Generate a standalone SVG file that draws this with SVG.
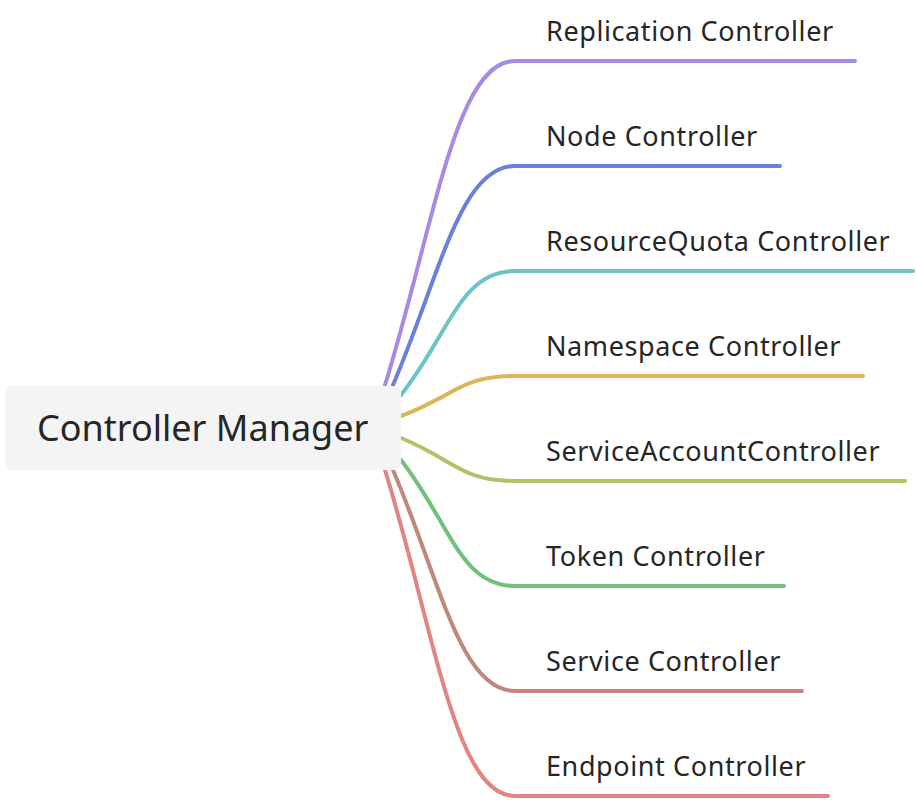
<svg xmlns="http://www.w3.org/2000/svg" width="916" height="800" viewBox="0 0 916 800">
<style>
.b{fill:none;stroke-width:4;stroke-linecap:round}
.t{font-family:"Segoe UI","Noto Sans","Open Sans",sans-serif;font-size:27px;letter-spacing:0.6px;fill:#262626}
</style>
<rect width="916" height="800" fill="#fff"/>
<g id="connectors">
<path class="b" stroke="#a78be0" d="M385 385 C435 223 455 61 515 61 H855"/>
<path class="b" stroke="#6b80d8" d="M393 385 C440 275 460 166 515 166 H780"/>
<path class="b" stroke="#6cc4c4" d="M401 395 C450 333 460 271 515 271 H913"/>
<path class="b" stroke="#ddb558" d="M401 416 C455 396 460 376 515 376 H863"/>
<path class="b" stroke="#aec46a" d="M401 438 C455 460 460 481 515 481 H905"/>
<path class="b" stroke="#73c07c" d="M401 460 C450 523 460 586 515 586 H784"/>
<path class="b" stroke="#c0887a" d="M393 470 C440 580 460 691 515 691 H802"/>
<path class="b" stroke="#e08484" d="M385 470 C435 633 455 796 515 796 H828"/>
</g>
<g id="root"><rect x="5" y="386" width="396" height="84" rx="6" fill="#f4f4f4"/>
<text x="37" y="441" class="t" style="font-size:36px;letter-spacing:0">Controller Manager</text></g>
<g id="n1"><text class="t" x="546" y="41">Replication Controller</text></g>
<g id="n2"><text class="t" x="546" y="146">Node Controller</text></g>
<g id="n3"><text class="t" x="546" y="251">ResourceQuota Controller</text></g>
<g id="n4"><text class="t" x="546" y="356">Namespace Controller</text></g>
<g id="n5"><text class="t" x="546" y="461">ServiceAccountController</text></g>
<g id="n6"><text class="t" x="546" y="566">Token Controller</text></g>
<g id="n7"><text class="t" x="546" y="671">Service Controller</text></g>
<g id="n8"><text class="t" x="546" y="776">Endpoint Controller</text></g>
</svg>
